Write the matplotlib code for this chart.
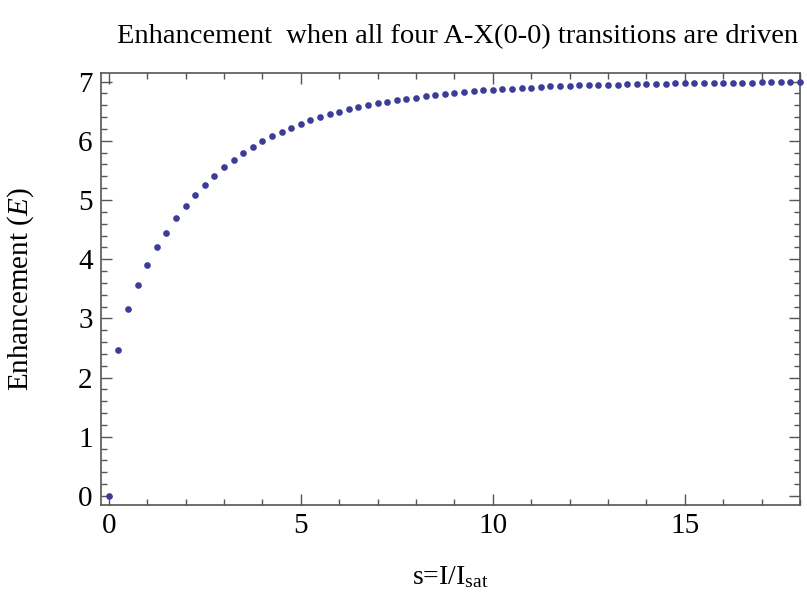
import numpy as np
import matplotlib.pyplot as plt
from matplotlib.ticker import MultipleLocator

plt.rcParams['font.family'] = ['Liberation Serif', 'DejaVu Serif']
plt.rcParams['mathtext.fontset'] = 'custom'
plt.rcParams['mathtext.rm'] = 'Liberation Serif'
plt.rcParams['mathtext.it'] = 'Liberation Serif:italic'

# saturation parameter s = I/Isat, sampled every 0.25
s = np.arange(0, 18.01, 0.25)
# enhancement values
E = [0.00, 2.47, 3.16, 3.57, 3.90, 4.20, 4.45, 4.69, 4.89, 5.08,
     5.25, 5.41, 5.55, 5.68, 5.79, 5.89, 5.99, 6.08, 6.15, 6.22,
     6.29, 6.35, 6.40, 6.45, 6.49, 6.53, 6.57, 6.61, 6.63, 6.66,
     6.69, 6.71, 6.73, 6.76, 6.78, 6.79, 6.81, 6.82, 6.84, 6.85,
     6.86, 6.87, 6.88, 6.89, 6.90, 6.91, 6.92, 6.925, 6.93, 6.937,
     6.943, 6.943, 6.948, 6.948, 6.954, 6.954, 6.959, 6.959, 6.965, 6.97,
     6.97, 6.97, 6.97, 6.976, 6.976, 6.982, 6.982, 6.982, 6.988, 6.988,
     6.993, 6.993, 6.993]

fig = plt.figure(figsize=(8.07, 5.95), dpi=100)
ax = fig.add_axes([0.1252, 0.1518, 0.8661, 0.7250])

ax.plot(s, E, 'o', color='#3d3d99', ms=4.8, mec='none', clip_on=False, zorder=3)

ax.set_xlim(-0.2, 18)
ax.set_ylim(-0.147, 7.14)

ax.xaxis.set_major_locator(MultipleLocator(5))
ax.xaxis.set_minor_locator(MultipleLocator(1))
ax.yaxis.set_major_locator(MultipleLocator(1))
ax.yaxis.set_minor_locator(MultipleLocator(0.2))

for sp in ax.spines.values():
    sp.set_color('#555555')
    sp.set_linewidth(1.2)

ax.tick_params(which='both', direction='in', top=True, right=True,
               color='#555555', labelsize=21, width=1.0)
ax.tick_params(which='major', length=8, pad=6)
ax.tick_params(which='minor', length=4.5)

ax.set_title('Enhancement  when all four A-X(0-0) transitions are driven',
             fontsize=20.5, pad=22, x=0.51)
ax.set_xlabel(r's=I/I$_{\mathrm{sat}}$', fontsize=20, labelpad=18)
ax.set_ylabel(r'Enhancement ($\mathit{E}$)', fontsize=21)
ax.yaxis.set_label_coords(-0.093, 0.5)

fig.savefig('out.png', dpi=100)
